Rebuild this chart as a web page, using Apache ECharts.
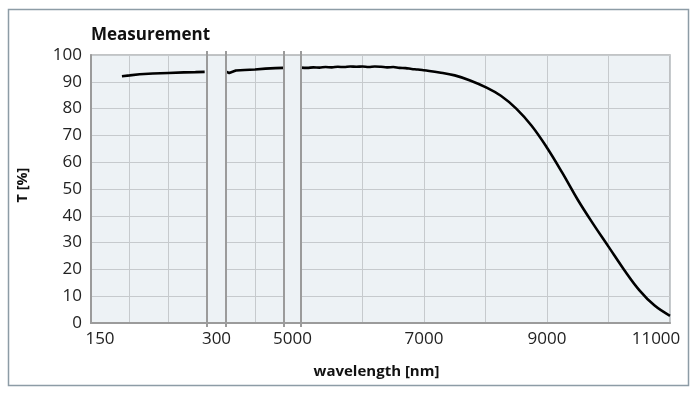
<!DOCTYPE html>
<html>
<head>
<meta charset="utf-8">
<script src="https://cdn.jsdelivr.net/npm/echarts@6/dist/echarts.min.js"></script>
<style>html,body{margin:0;padding:0;background:#fff}#c{width:700px;height:393px}</style>
</head>
<body>
<div id="c"></div>
<script>
// ---- data ----
const titleText = 'Measurement';
const xName = 'wavelength [nm]';
const yName = 'T [%]';
const yTicks = [0, 10, 20, 30, 40, 50, 60, 70, 80, 90, 100];
const xLabelsShown = [150, 300, 5000, 7000, 9000, 11000];

const seg1Wavelength = [190, 200, 213, 230, 250, 270, 285, 297];
const seg1T = [92.1, 92.4, 92.8, 93.1, 93.3, 93.5, 93.6, 93.7];

const seg2Wavelength = [300, 420, 560, 700, 1100, 1800, 2650, 3500, 4300, 4950];
const seg2T = [93.8, 93.9, 93.3, 94.0, 94.2, 94.4, 94.6, 94.9, 95.1, 95.2];

const seg3Wavelength = [5000, 5100, 5200, 5300, 5400, 5500, 5600, 5700, 5800, 5900, 6000, 6100, 6200, 6300, 6400, 6500, 6600, 6700, 6800, 6900, 7000, 7250, 7500, 7750, 8000, 8250, 8500, 8750, 9000, 9250, 9500, 9750, 10000, 10250, 10500, 10750, 11000];
const seg3T = [95.3, 95.2, 95.4, 95.3, 95.5, 95.4, 95.6, 95.5, 95.7, 95.6, 95.7, 95.5, 95.7, 95.6, 95.4, 95.5, 95.2, 95.1, 94.8, 94.6, 94.3, 93.5, 92.4, 90.5, 88.0, 84.8, 80.0, 73.6, 65.4, 56.0, 46.0, 37.0, 28.5, 20.0, 12.3, 6.5, 2.7];

// ---- layout ----
const TOP = 55, H = 268;
const G1 = {left: 91, width: 116};
const G2 = {left: 226, width: 58};
const G3 = {left: 301, width: 369};
const FULL = {left: 91, width: 579};

const FONT = 'Open Sans';
const gridLineColor = '#c6cacd';
const axisColor = '#9b9b9b';

const zip = (a, b) => a.map((v, i) => [v, b[i]]);

const chart = echarts.init(document.getElementById('c'), null, {renderer: 'canvas'});

function segXAxis(gi, min, max, interval, fmt) {
  return {
    type: 'value', gridIndex: gi, min, max, interval,
    axisLine: {show: false}, axisTick: {show: false},
    splitLine: {show: true, lineStyle: {color: gridLineColor, width: 1}},
    axisLabel: fmt ? {
      show: true, showMinLabel: true, showMaxLabel: true, margin: 8,
      fontFamily: FONT, fontSize: 17, color: '#222',
      formatter: fmt,
      rich: {
        r9: {fontFamily: FONT, fontSize: 17, color: '#222', padding: [0, 0, 0, 18]},
        r10: {fontFamily: FONT, fontSize: 17, color: '#222', padding: [0, 0, 0, 19]},
        l8: {fontFamily: FONT, fontSize: 17, color: '#222', padding: [0, 17, 0, 0]},
        l14: {fontFamily: FONT, fontSize: 17, color: '#222', padding: [0, 28, 0, 0]},
        n: {fontFamily: FONT, fontSize: 17, color: '#222'}
      }
    } : {show: false}
  };
}
function segYAxis(gi) {
  return {
    type: 'value', gridIndex: gi, min: yTicks[0], max: yTicks[yTicks.length - 1], interval: yTicks[1] - yTicks[0],
    axisLine: {show: false}, axisTick: {show: false}, axisLabel: {show: false},
    splitLine: {show: true, lineStyle: {color: gridLineColor, width: 1}}
  };
}

const lineStyle = {color: '#000', width: 2.6};

const option = {
  animation: false,
  backgroundColor: '#fff',
  title: {
    text: titleText, left: 91, top: 27, padding: 0,
    textStyle: {fontFamily: FONT, fontSize: 17, fontWeight: 'bold', color: '#111'}
  },
  grid: [
    {left: FULL.left, width: FULL.width, top: TOP, height: H, show: true, backgroundColor: '#edf2f5', borderColor: '#aeb1b3', borderWidth: 1.5},
    {left: G1.left, width: G1.width, top: TOP, height: H},
    {left: G2.left, width: G2.width, top: TOP, height: H},
    {left: G3.left, width: G3.width, top: TOP, height: H}
  ],
  xAxis: [
    {
      type: 'value', gridIndex: 0, min: 0, max: 1,
      axisLine: {show: true, lineStyle: {color: axisColor, width: 2}},
      axisTick: {show: false}, axisLabel: {show: false}, splitLine: {show: false},
      name: xName, nameLocation: 'middle', nameGap: 41,
      nameTextStyle: {fontFamily: FONT, fontSize: 15, fontWeight: 'bold', color: '#111', padding: [0, 8, 0, 0]}
    },
    segXAxis(1, 150, 300, 50, v => v === xLabelsShown[0] ? '{r9|' + v + '}' : (v === xLabelsShown[1] ? '{r10|' + v + '}' : '')),
    segXAxis(2, 300, 5000, 2350, null),
    segXAxis(3, 5000, 11000, 1000, v => {
      if (v === xLabelsShown[2]) return '{l8|' + v + '}';
      if (v === xLabelsShown[5]) return '{l14|' + v + '}';
      if (xLabelsShown.indexOf(v) >= 0) return '{n|' + v + '}';
      return '';
    })
  ],
  yAxis: [
    {
      type: 'value', gridIndex: 0, min: 0, max: 100, interval: 10,
      axisLine: {show: true, lineStyle: {color: axisColor, width: 2}},
      axisTick: {show: false}, splitLine: {show: false},
      axisLabel: {show: true, margin: 9, fontFamily: FONT, fontSize: 17, color: '#222'},
      name: yName, nameLocation: 'middle', nameGap: 61, nameRotate: 90,
      nameTextStyle: {fontFamily: FONT, fontSize: 14.5, fontWeight: 'bold', color: '#111', padding: [0, 0, 0, 8]}
    },
    segYAxis(1), segYAxis(2), segYAxis(3)
  ],
  series: [
    {type: 'line', xAxisIndex: 1, yAxisIndex: 1, data: zip(seg1Wavelength, seg1T), showSymbol: false, lineStyle, z: 5},
    {type: 'line', xAxisIndex: 2, yAxisIndex: 2, data: zip(seg2Wavelength, seg2T), showSymbol: false, lineStyle, z: 5},
    {type: 'line', xAxisIndex: 3, yAxisIndex: 3, data: zip(seg3Wavelength, seg3T), showSymbol: false, smooth: 0.4, lineStyle, z: 5}
  ],
  graphic: [
    {type: 'rect', shape: {x: 8.5, y: 9.5, width: 680, height: 376}, style: {fill: 'none', stroke: '#8d9ca6', lineWidth: 1.5}, z: 100, silent: true},
    ...[G1.left + G1.width, G2.left, G2.left + G2.width, G3.left].map(x => ({
      type: 'line', shape: {x1: x, y1: TOP - 4, x2: x, y2: TOP + H + 4},
      style: {stroke: axisColor, lineWidth: 2}, z: 100, silent: true
    }))
  ]
};
chart.setOption(option);
</script>
</body>
</html>
